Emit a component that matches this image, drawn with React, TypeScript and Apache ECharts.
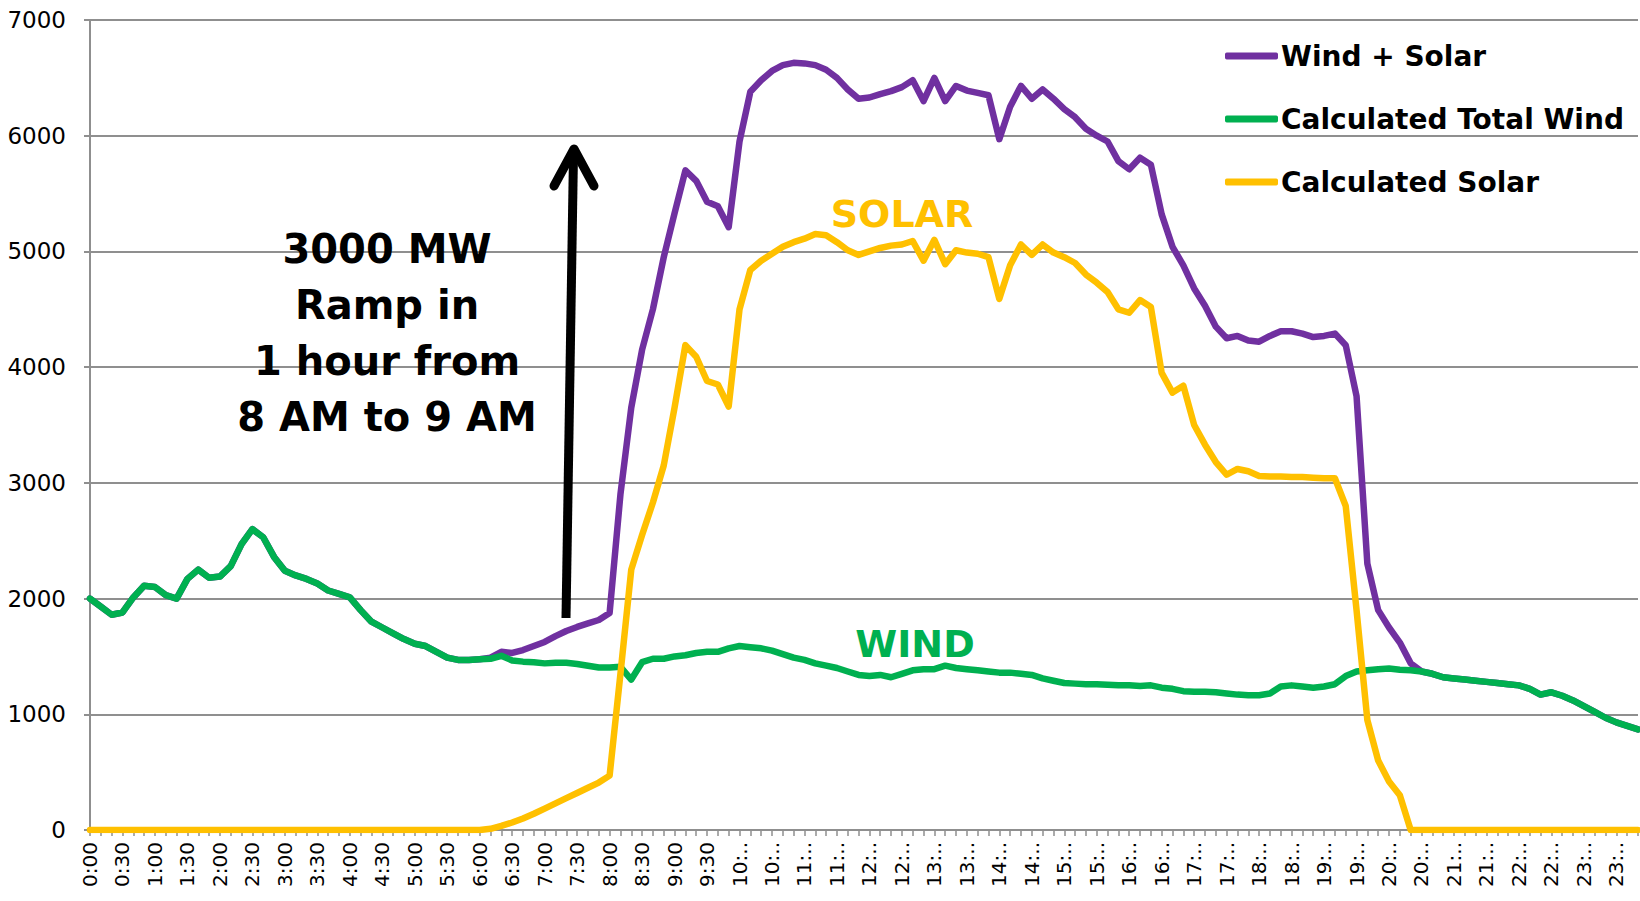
import { useEffect, useRef } from "react";
import * as echarts from "echarts";

// 10-minute samples, 0:00 .. 23:50
const wind = [
  2000, 1930, 1860, 1880, 2010, 2110,
  2100, 2030, 2000, 2170, 2250, 2180,
  2190, 2280, 2470, 2600, 2530, 2360,
  2240, 2200, 2170, 2130, 2070, 2040,
  2010, 1900, 1800, 1750, 1700, 1650,
  1610, 1590, 1540, 1490, 1470, 1470,
  1475, 1480, 1505, 1465, 1455, 1450,
  1440, 1445, 1445, 1435, 1420, 1405,
  1405, 1410, 1300, 1450, 1480, 1480,
  1500, 1510, 1530, 1540, 1540, 1570,
  1590, 1580, 1570, 1550, 1520, 1490,
  1470, 1440, 1420, 1400, 1370, 1340,
  1330, 1340, 1320, 1350, 1380, 1390,
  1390, 1420, 1400, 1390, 1380, 1370,
  1360, 1360, 1350, 1340, 1310, 1290,
  1270, 1265, 1260, 1260, 1255, 1250,
  1250, 1245, 1250, 1230, 1220, 1200,
  1195, 1195, 1190, 1180, 1170, 1165,
  1165, 1180, 1240, 1250, 1240, 1230,
  1240, 1260, 1330, 1370, 1380, 1390,
  1395, 1385, 1380, 1370, 1350, 1320,
  1310, 1300, 1290, 1280, 1270, 1260,
  1250, 1220, 1170, 1190, 1160, 1120,
  1070, 1020, 970, 930, 900, 870,
];

const solar = [
  0, 0, 0, 0, 0, 0,
  0, 0, 0, 0, 0, 0,
  0, 0, 0, 0, 0, 0,
  0, 0, 0, 0, 0, 0,
  0, 0, 0, 0, 0, 0,
  0, 0, 0, 0, 0, 0,
  0, 10, 35, 65, 100, 140,
  185, 230, 275, 320, 365, 410,
  470, 1350, 2250, 2550, 2830, 3150,
  3650, 4190, 4090, 3880, 3850, 3660,
  4500, 4840, 4920, 4980, 5040, 5080,
  5110, 5150, 5140, 5080, 5010, 4970,
  5000, 5030, 5050, 5060, 5090, 4920,
  5100, 4890, 5010, 4990, 4980, 4950,
  4590, 4880, 5060, 4970, 5060, 4990,
  4950, 4900, 4800, 4730, 4650, 4500,
  4470, 4580, 4520, 3950, 3780, 3840,
  3500, 3330, 3180, 3070, 3120, 3100,
  3060, 3055, 3055, 3050, 3050, 3045,
  3040, 3040, 2800, 1900, 950, 600,
  420, 300, 0, 0, 0, 0,
  0, 0, 0, 0, 0, 0,
  0, 0, 0, 0, 0, 0,
  0, 0, 0, 0, 0, 0,
];

const windPlusSolar = [
  2000, 1930, 1860, 1880, 2010, 2110,
  2100, 2030, 2000, 2170, 2250, 2180,
  2190, 2280, 2470, 2600, 2530, 2360,
  2240, 2200, 2170, 2130, 2070, 2040,
  2010, 1900, 1800, 1750, 1700, 1650,
  1610, 1590, 1540, 1490, 1470, 1470,
  1475, 1490, 1540, 1530, 1555, 1590,
  1625, 1675, 1720, 1755, 1785, 1815,
  1875, 2900, 3650, 4150, 4500, 4950,
  5330, 5700, 5610, 5430, 5390, 5210,
  5950, 6380, 6480, 6560, 6610, 6630,
  6625, 6610, 6570, 6500, 6400, 6320,
  6330, 6360, 6385, 6420, 6480, 6300,
  6500, 6300, 6430, 6390, 6370, 6350,
  5970, 6250, 6430, 6320, 6400, 6320,
  6230, 6160, 6060, 6000, 5950, 5780,
  5710, 5810, 5750, 5320, 5040, 4880,
  4680, 4530, 4350, 4250, 4270, 4230,
  4220, 4270, 4310, 4310, 4290, 4260,
  4270, 4290, 4190, 3750, 2300, 1900,
  1750, 1620, 1440, 1370, 1350, 1320,
  1310, 1300, 1290, 1280, 1270, 1260,
  1250, 1220, 1170, 1190, 1160, 1120,
  1070, 1020, 970, 930, 900, 870,
];

// one visible label per 30 minutes
const xTickLabels = [
  "0:00", "0:30", "1:00", "1:30", "2:00", "2:30", "3:00", "3:30",
  "4:00", "4:30", "5:00", "5:30", "6:00", "6:30", "7:00", "7:30",
  "8:00", "8:30", "9:00", "9:30", "10:..", "10:..", "11:..", "11:..",
  "12:..", "12:..", "13:..", "13:..", "14:..", "14:..", "15:..", "15:..",
  "16:..", "16:..", "17:..", "17:..", "18:..", "18:..", "19:..", "19:..",
  "20:..", "20:..", "21:..", "21:..", "22:..", "22:..", "23:..", "23:..",
];

const seriesNames = ["Wind + Solar", "Calculated Total Wind", "Calculated Solar"];
const seriesColors = ["#7030A0", "#00B050", "#FFC000"];

const categories = wind.map((_, i) => {
  const m = i * 10;
  return `${Math.floor(m / 60)}:${String(m % 60).padStart(2, "0")}`;
});

const FONT = '"DejaVu Sans", "Liberation Sans", Arial, sans-serif';
const GRID_GRAY = "#8f8f8f";

export default function App() {
  const ref = useRef<HTMLDivElement>(null);

  useEffect(() => {
    if (!ref.current) return;
    const chart = echarts.init(ref.current, null, { renderer: "svg" });
    const seriesData = [windPlusSolar, wind, solar];
    chart.setOption({
      animation: false,
      backgroundColor: "#ffffff",
      grid: {
        left: 90,
        right: 2,
        top: 20,
        bottom: 71,
        containLabel: false,
        outerBoundsMode: "none",
      },
      legend: {
        orient: "vertical",
        left: 1225,
        top: 41,
        padding: 0,
        itemWidth: 53,
        itemHeight: 7,
        itemGap: 33,
        icon: "roundRect",
        selectedMode: false,
        data: seriesNames,
        textStyle: {
          fontFamily: FONT,
          fontSize: 28,
          fontWeight: "bold",
          color: "#000",
          lineHeight: 30,
          padding: [0, 0, 0, -2],
        },
      },
      xAxis: {
        type: "category",
        boundaryGap: false,
        data: categories,
        axisLine: { show: true, lineStyle: { color: GRID_GRAY, width: 2 } },
        axisTick: {
          show: true,
          interval: 0,
          length: 6,
          lineStyle: { color: GRID_GRAY, width: 1.5 },
        },
        axisLabel: {
          interval: 2,
          rotate: 90,
          margin: 12,
          color: "#000",
          fontFamily: FONT,
          fontSize: 20,
          formatter: (_v: string, idx: number) =>
            idx % 3 === 0 ? xTickLabels[idx / 3] ?? "" : "",
        },
        splitLine: { show: false },
      },
      yAxis: {
        type: "value",
        min: 0,
        max: 7000,
        interval: 1000,
        axisLine: { show: true, lineStyle: { color: GRID_GRAY, width: 2 } },
        axisTick: { show: true, length: 6, lineStyle: { color: GRID_GRAY, width: 2 } },
        axisLabel: {
          margin: 24,
          color: "#000",
          fontFamily: FONT,
          fontSize: 23,
          formatter: (v: number) => String(v),
        },
        splitLine: { show: true, lineStyle: { color: GRID_GRAY, width: 2 } },
      },
      series: seriesNames.map((name, k) => ({
        name,
        type: "line",
        data: seriesData[k],
        symbol: "none",
        showSymbol: false,
        color: seriesColors[k],
        itemStyle: { color: seriesColors[k] },
        lineStyle: { color: seriesColors[k], width: 6.5, join: "round", cap: "round" },
        emphasis: { disabled: true },
        z: 2 + k,
      })),
      graphic: [
        {
          type: "text",
          x: 387,
          y: 333,
          z: 10,
          style: {
            text: "3000 MW\nRamp in\n1 hour from\n8 AM to 9 AM",
            fill: "#000",
            fontFamily: FONT,
            fontSize: 40,
            fontWeight: "bold",
            lineHeight: 56,
            textAlign: "center",
            textVerticalAlign: "middle",
          },
        },
        {
          type: "text",
          x: 902,
          y: 214,
          z: 10,
          style: {
            text: "SOLAR",
            fill: "#FFC000",
            fontFamily: FONT,
            fontSize: 38,
            fontWeight: "bold",
            textAlign: "center",
            textVerticalAlign: "middle",
          },
        },
        {
          type: "text",
          x: 915,
          y: 644,
          z: 10,
          style: {
            text: "WIND",
            fill: "#00B050",
            fontFamily: FONT,
            fontSize: 38,
            fontWeight: "bold",
            textAlign: "center",
            textVerticalAlign: "middle",
          },
        },
        {
          type: "line",
          z: 10,
          shape: { x1: 566, y1: 618, x2: 573.5, y2: 154 },
          style: { stroke: "#000", lineWidth: 9 },
        },
        {
          type: "polyline",
          z: 10,
          shape: { points: [[554, 186], [574, 149], [594, 186]] },
          style: { stroke: "#000", fill: null, lineWidth: 9, lineCap: "round", lineJoin: "round" },
        },
      ],
    });
    return () => chart.dispose();
  }, []);

  return (
    <div
      ref={ref}
      style={{ position: "fixed", left: 0, top: 0, width: 1640, height: 901, background: "#fff" }}
    />
  );
}
